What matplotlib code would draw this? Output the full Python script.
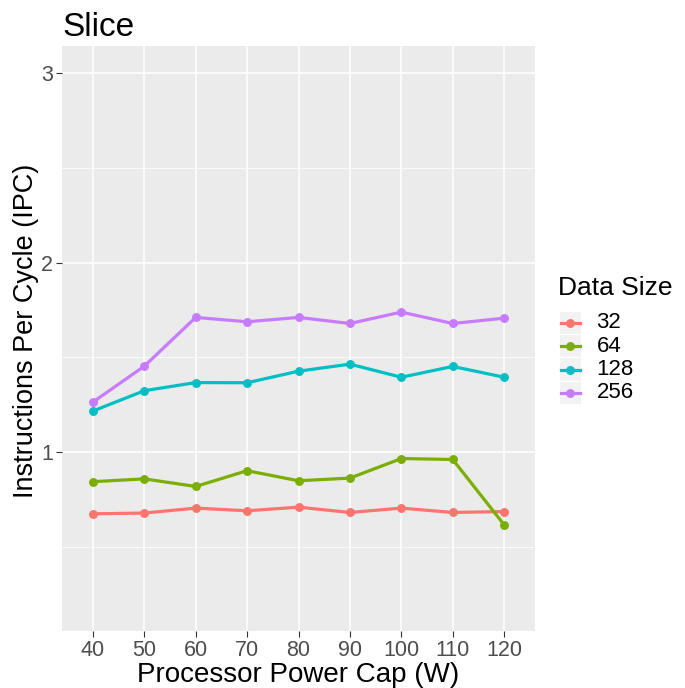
import matplotlib
matplotlib.use("Agg")
import matplotlib.pyplot as plt
from matplotlib.patches import Rectangle
from matplotlib.lines import Line2D

plt.rcParams['font.family'] = ['Liberation Sans', 'DejaVu Sans']

power_caps = ["40", "50", "60", "70", "80", "90", "100", "110", "120"]
sizes = ["32", "64", "128", "256"]
ipc_32 = [0.677, 0.681, 0.707, 0.693, 0.712, 0.684, 0.707, 0.684, 0.689]
ipc_64 = [0.846, 0.861, 0.821, 0.904, 0.851, 0.865, 0.968, 0.963, 0.619]
ipc_128 = [1.218, 1.325, 1.368, 1.367, 1.428, 1.465, 1.396, 1.453, 1.396]
ipc_256 = [1.265, 1.454, 1.711, 1.688, 1.711, 1.679, 1.739, 1.679, 1.707]
series = [ipc_32, ipc_64, ipc_128, ipc_256]
colors = ["#F8766D", "#7CAE00", "#00BFC4", "#C77CFF"]

W, H = 685, 688
fig = plt.figure(figsize=(W / 100, H / 100), dpi=100)
L, R, T, B = 62, 535, 46, 631
ax = fig.add_axes([L / W, 1 - B / H, (R - L) / W, (B - T) / H])
ax.set_facecolor("#EBEBEB")

xs = list(range(len(power_caps)))
for vals, c in zip(series, colors):
    ax.plot(xs, vals, color=c, lw=2.3, marker='o', ms=5.4, zorder=3,
            solid_capstyle='butt')

ax.set_xlim(-0.6, len(power_caps) - 1 + 0.6)
ax.set_ylim(0.2 - 0.14, 3.0 + 0.14)
ax.set_xticks(xs)
ax.set_xticklabels(power_caps)
ax.set_yticks([1, 2, 3])
ax.set_yticklabels(["1", "2", "3"])
ax.set_yticks([0.5, 1.5, 2.5], minor=True)
ax.grid(True, which='major', color='white', lw=1.1, zorder=0)
ax.grid(True, which='minor', axis='y', color='white', lw=0.55, zorder=0)
ax.set_axisbelow(True)
for s in ax.spines.values():
    s.set_visible(False)
ax.tick_params(axis='both', which='major', length=4, width=0.8, color='#333333',
               labelsize=15.5, labelcolor='#4D4D4D', pad=2.5)
ax.tick_params(axis='y', which='minor', length=0)
ax.set_xlabel("Processor Power Cap (W)", fontsize=20, color='black')
ax.set_ylabel("Instructions Per Cycle (IPC)", fontsize=19.5, color='black')
ax.xaxis.set_label_coords(0.5, (B - 662) / (B - T))
ax.yaxis.set_label_coords((39 - L) / (R - L), (B - 331) / (B - T))
ax.set_title("Slice", fontsize=24, loc='left', pad=7.4)

# legend drawn in figure pixel coordinates
lax = fig.add_axes([0, 0, 1, 1], facecolor='none')
lax.set_xlim(0, W)
lax.set_ylim(H, 0)
lax.axis('off')
lax.text(558, 295, "Data Size", fontsize=19, ha='left', va='baseline')
row_top = 311.7
row_h = 23.3
for i, (lab, c) in enumerate(zip(sizes, colors)):
    y0 = row_top + i * row_h
    lax.add_patch(Rectangle((560, y0), 21, 22.3, facecolor='#F2F2F2', edgecolor='none'))
    yc = y0 + 11.2
    lax.add_line(Line2D([561, 580], [yc, yc], color=c, lw=2.3))
    lax.plot([570.5], [yc], marker='o', color=c, ms=5.4)
    lax.text(596.5, yc, lab, fontsize=16, ha='left', va='center')

fig.savefig("out.png", dpi=100)
